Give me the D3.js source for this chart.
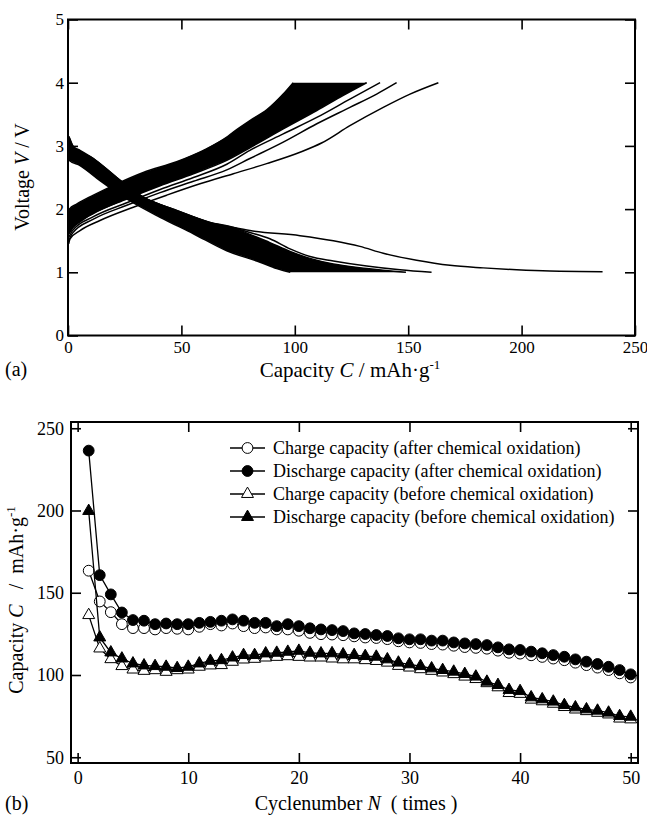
<!DOCTYPE html>
<html>
<head>
<meta charset="utf-8">
<script src="https://cdn.jsdelivr.net/npm/d3@7"></script>
<style>
  body { margin: 0; background: #fff; }
  svg { display: block; font-family: "Liberation Serif", "Times New Roman", serif; }
  text { white-space: pre; }
</style>
</head>
<body>
<div id="chart"></div>
<script>
// ---- (a) charge / discharge profiles, points are [capacity, voltage]
// the dense bundle of cycles is drawn as a filled band between its two edges
const chargeBandUpper = [[0.2, 1.9], [0.6, 2.0], [3.8, 2.08], [11.2, 2.22], [21.5, 2.4], [33.2, 2.58], [47.9, 2.75], [59.7, 2.93], [70, 3.14], [72.9, 3.22], [80.2, 3.4], [87.6, 3.57], [94.9, 3.82], [99.3, 4.0]];
const chargeBandLower = [[0.3, 1.6], [2.3, 1.71], [11.2, 1.93], [25.9, 2.16], [40.6, 2.37], [55.3, 2.56], [70, 2.77], [80.2, 2.97], [94.9, 3.27], [109.7, 3.56], [121.4, 3.8], [131.7, 4.0]];
const chargeCycle3 = [[0.3, 1.55], [2, 1.66], [11.2, 1.88], [25.9, 2.1], [40.6, 2.31], [55.3, 2.5], [70, 2.71], [80.2, 2.93], [94.9, 3.19], [109.7, 3.45], [124.3, 3.74], [137.6, 4.0]];
const chargeCycle2 = [[0.3, 1.5], [2, 1.62], [11.2, 1.84], [25.9, 2.06], [40.6, 2.26], [55.3, 2.44], [70, 2.62], [80.2, 2.8], [94.9, 3.06], [109.7, 3.35], [124.3, 3.61], [136.1, 3.82], [144.9, 4.0]];
const chargeCycle1 = [[0.3, 1.45], [0.9, 1.53], [5.3, 1.66], [14.1, 1.82], [28.8, 2.03], [43.5, 2.22], [58.2, 2.4], [72.9, 2.56], [87.6, 2.72], [102.3, 2.9], [112, 3.05], [124.3, 3.32], [139, 3.61], [150.8, 3.82], [163.3, 4.0]];

const dischargeBandUpper = [[0.3, 3.15], [0.6, 3.13], [2.3, 2.99], [5.3, 2.93], [11.2, 2.8], [21.5, 2.5], [33.2, 2.19], [47.9, 1.98], [62.6, 1.79], [72.9, 1.71], [80.2, 1.6], [89, 1.47], [97.9, 1.33], [106.7, 1.22], [117, 1.13], [131.7, 1.06], [149, 1.0]];
const dischargeBandLower = [[0.3, 2.8], [0.6, 2.77], [5.3, 2.69], [14.1, 2.45], [25.9, 2.16], [40.6, 1.87], [55.3, 1.61], [70, 1.34], [84.7, 1.16], [92, 1.06], [98, 1.0]];
const dischargeCycle2 = [[72.9, 1.71], [80.2, 1.63], [89, 1.53], [97.9, 1.37], [106.7, 1.25], [117, 1.18], [131.7, 1.1], [146.4, 1.04], [160.3, 1.0]];
const dischargeCycle1 = [[0.3, 3.15], [2.3, 2.99], [11.2, 2.8], [21.5, 2.5], [33.2, 2.19], [47.9, 1.98], [62.6, 1.79], [72.9, 1.71], [80.2, 1.66], [102.3, 1.58], [117, 1.5], [128.7, 1.41], [139, 1.3], [153.7, 1.19], [168.4, 1.11], [183.1, 1.07], [197.8, 1.04], [212.5, 1.02], [235.7, 1.01]];

const capTicksA = [0, 50, 100, 150, 200, 250];
const voltTicks = [0, 1, 2, 3, 4, 5];

// ---- (b) capacity vs cycle number
const cycles = d3.range(1, 51);
const chargeAfter = [163.4, 144.7, 138.2, 130.9, 128.5, 128.5, 127.7, 128.5, 128.1, 127.7, 129.3, 130.9, 130.1, 131.3, 129.7, 128.5, 128.9, 127.7, 127.7, 126.9, 125.6, 124.8, 124.6, 124.2, 123.5, 122.8, 122.5, 121.8, 120.5, 119.8, 119.5, 118.8, 118.5, 117.8, 117.0, 116.5, 116.0, 114.8, 113.5, 113.0, 112.0, 111.0, 110.0, 109.0, 107.5, 106.0, 104.5, 103.0, 101.0, 98.5];
const dischargeAfter = [236.4, 160.7, 149.0, 138.0, 133.4, 133.0, 130.9, 131.3, 130.9, 130.9, 131.7, 132.3, 133.0, 133.8, 133.0, 131.7, 131.7, 129.7, 130.9, 129.7, 128.4, 127.7, 127.3, 126.7, 125.3, 124.9, 124.3, 123.7, 122.3, 121.7, 121.7, 120.9, 120.9, 119.8, 119.2, 118.8, 118.2, 116.8, 115.6, 115.2, 114.2, 113.2, 112.1, 111.1, 109.5, 108.1, 106.7, 105.0, 103.0, 100.4];
const chargeBefore = [136.4, 116.1, 109.6, 105.4, 103.3, 102.5, 102.9, 101.9, 102.9, 103.3, 105.0, 105.8, 106.0, 108.0, 109.4, 109.8, 110.6, 111.0, 111.4, 111.0, 110.6, 110.6, 110.0, 109.5, 109.5, 109.0, 108.5, 107.5, 105.5, 104.5, 103.5, 102.5, 101.5, 100.5, 99.0, 97.5, 95.0, 92.5, 89.0, 88.5, 85.0, 84.0, 82.5, 80.5, 79.0, 78.0, 77.0, 76.0, 73.5, 73.0];
const dischargeBefore = [199.7, 122.8, 113.7, 110.0, 107.0, 105.8, 105.4, 105.0, 104.2, 105.0, 107.0, 108.6, 109.0, 110.6, 112.1, 112.1, 113.1, 113.5, 114.1, 114.7, 113.5, 113.1, 113.2, 112.5, 112.1, 111.5, 111.1, 109.5, 107.5, 106.5, 105.4, 104.0, 103.0, 102.0, 100.6, 99.0, 95.9, 93.9, 90.9, 90.2, 86.4, 85.2, 83.8, 81.7, 80.3, 79.1, 78.3, 77.1, 75.0, 74.6];

const cycleTicks = [0, 10, 20, 30, 40, 50];
const capTicksB = [50, 100, 150, 200, 250];

const series = [
  { name: 'Charge capacity (after chemical oxidation)', values: chargeAfter, shape: 'circle', filled: false },
  { name: 'Discharge capacity (after chemical oxidation)', values: dischargeAfter, shape: 'circle', filled: true },
  { name: 'Charge capacity (before chemical oxidation)', values: chargeBefore, shape: 'triangle', filled: false },
  { name: 'Discharge capacity (before chemical oxidation)', values: dischargeBefore, shape: 'triangle', filled: true }
];

const W = 647, H = 815;
const svg = d3.select('#chart').append('svg')
  .attr('width', W)
  .attr('height', H);

// inward ticks on all four sides + frame
const frame = (g, x, y, xTicks, yTicks, fontSize, padX, padY) => {
  const [x0, x1] = x.range();
  const [y0, y1] = y.range();
  g.append('g')
    .attr('transform', `translate(0,${y0})`)
    .call(d3.axisBottom(x).tickValues(xTicks).tickSize(-10).tickPadding(padX).tickFormat(d3.format('d')))
    .call(a => a.select('.domain').remove());
  g.append('g')
    .attr('transform', `translate(0,${y1})`)
    .call(d3.axisTop(x).tickValues(xTicks).tickSize(-10).tickFormat(''))
    .call(a => a.select('.domain').remove());
  g.append('g')
    .attr('transform', `translate(${x0},0)`)
    .call(d3.axisLeft(y).tickValues(yTicks).tickSize(-10).tickPadding(padY).tickFormat(d3.format('d')))
    .call(a => a.select('.domain').remove());
  g.append('g')
    .attr('transform', `translate(${x1},0)`)
    .call(d3.axisRight(y).tickValues(yTicks).tickSize(-10).tickFormat(''))
    .call(a => a.select('.domain').remove());
  g.selectAll('.tick line').attr('stroke', '#000').attr('stroke-width', 1.6);
  g.selectAll('.tick text')
    .attr('fill', '#000')
    .style('font-family', '"Liberation Serif", "Times New Roman", serif')
    .style('font-size', fontSize + 'px');
  g.append('rect')
    .attr('x', x0).attr('y', y1)
    .attr('width', x1 - x0).attr('height', y0 - y1)
    .attr('fill', 'none')
    .attr('stroke', '#000')
    .attr('stroke-width', 2);
};

// ================= (a) =================
const xA = d3.scaleLinear().domain([0, 250]).range([68, 635]);
const yA = d3.scaleLinear().domain([0, 5]).range([335.5, 19.5]);
const gA = svg.append('g');

const lineA = d3.line()
  .x(d => xA(d[0]))
  .y(d => yA(d[1]))
  .curve(d3.curveMonotoneX);
const polyA = d3.line()
  .x(d => xA(d[0]))
  .y(d => yA(d[1]));

const curves = gA.append('g');
// bands: upper edge, then lower edge backwards
curves.append('path')
  .attr('d', polyA(chargeBandUpper.concat(chargeBandLower.slice().reverse())) + 'Z')
  .attr('fill', '#000');
curves.append('path')
  .attr('d', polyA(dischargeBandUpper.concat(dischargeBandLower.slice().reverse())) + 'Z')
  .attr('fill', '#000');

curves.selectAll('.edge')
  .data([chargeBandUpper, chargeBandLower, dischargeBandUpper, dischargeBandLower,
    chargeCycle1, chargeCycle2, chargeCycle3, dischargeCycle1, dischargeCycle2])
  .join('path')
  .attr('class', 'edge')
  .attr('d', lineA)
  .attr('fill', 'none')
  .attr('stroke', '#000')
  .attr('stroke-width', 1.5);

frame(gA, xA, yA, capTicksA, voltTicks, 17, 5, 4);

gA.append('text')
  .attr('x', 350).attr('y', 377)
  .attr('text-anchor', 'middle')
  .style('font-size', '21px')
  .call(t => {
    t.append('tspan').text('Capacity ');
    t.append('tspan').style('font-style', 'italic').text('C');
    t.append('tspan').text(' / mAh·g');
    t.append('tspan').attr('dy', -8).style('font-size', '13px').text('-1');
  });
gA.append('text')
  .attr('transform', 'translate(29,177) rotate(-90)')
  .attr('text-anchor', 'middle')
  .style('font-size', '20px')
  .call(t => {
    t.append('tspan').text('Voltage ');
    t.append('tspan').style('font-style', 'italic').text('V');
    t.append('tspan').text(' / V');
  });
gA.append('text')
  .attr('x', 5).attr('y', 376)
  .style('font-size', '20px')
  .text('(a)');

// ================= (b) =================
const xB = d3.scaleLinear().domain([-0.6, 50.66]).range([71, 638]);
const yB = d3.scaleLinear().domain([46.5, 253.8]).range([763, 422]);
const gB = svg.append('g');

frame(gB, xB, yB, cycleTicks, capTicksB, 18, 8, 7);

const triangle = d3.symbol().type(d3.symbolTriangle).size(62);
const circle = d3.symbol().type(d3.symbolCircle).size(92);
const marker = s => s.shape === 'circle' ? circle() : triangle();

const lineB = d3.line()
  .x((d, i) => xB(cycles[i]))
  .y(d => yB(d));

const plot = gB.append('g');
series.forEach(s => {
  const g = plot.append('g');
  g.append('path')
    .attr('d', lineB(s.values))
    .attr('fill', 'none')
    .attr('stroke', '#000')
    .attr('stroke-width', 1.3);
  g.selectAll('path.pt')
    .data(s.values)
    .join('path')
    .attr('class', 'pt')
    .attr('transform', (d, i) => `translate(${xB(cycles[i])},${yB(d)})`)
    .attr('d', marker(s))
    .attr('fill', s.filled ? '#000' : '#fff')
    .attr('stroke', '#000')
    .attr('stroke-width', 1);
});

// legend
const legend = gB.append('g')
  .selectAll('g')
  .data(series)
  .join('g')
  .attr('transform', (d, i) => `translate(230,${448 + i * 23})`);
legend.append('line')
  .attr('x1', 0).attr('x2', 35)
  .attr('stroke', '#000')
  .attr('stroke-width', 1.3);
legend.append('path')
  .attr('transform', 'translate(17.5,0)')
  .attr('d', marker)
  .attr('fill', d => d.filled ? '#000' : '#fff')
  .attr('stroke', '#000');
legend.append('text')
  .attr('x', 43).attr('y', 6)
  .style('font-size', '18px')
  .text(d => d.name);

gB.append('text')
  .attr('x', 356).attr('y', 810)
  .attr('text-anchor', 'middle')
  .style('font-size', '20px')
  .call(t => {
    t.append('tspan').text('Cyclenumber ');
    t.append('tspan').style('font-style', 'italic').text('N');
    t.append('tspan').text('  ( times )');
  });
gB.append('text')
  .attr('transform', 'translate(23,600) rotate(-90)')
  .attr('text-anchor', 'middle')
  .style('font-size', '20px')
  .call(t => {
    t.append('tspan').text('Capacity ');
    t.append('tspan').style('font-style', 'italic').text('C');
    t.append('tspan').text('   /  mAh·g');
    t.append('tspan').attr('dy', -8).style('font-size', '13px').text('-1');
  });
gB.append('text')
  .attr('x', 5).attr('y', 810)
  .style('font-size', '20px')
  .text('(b)');
</script>
</body>
</html>
